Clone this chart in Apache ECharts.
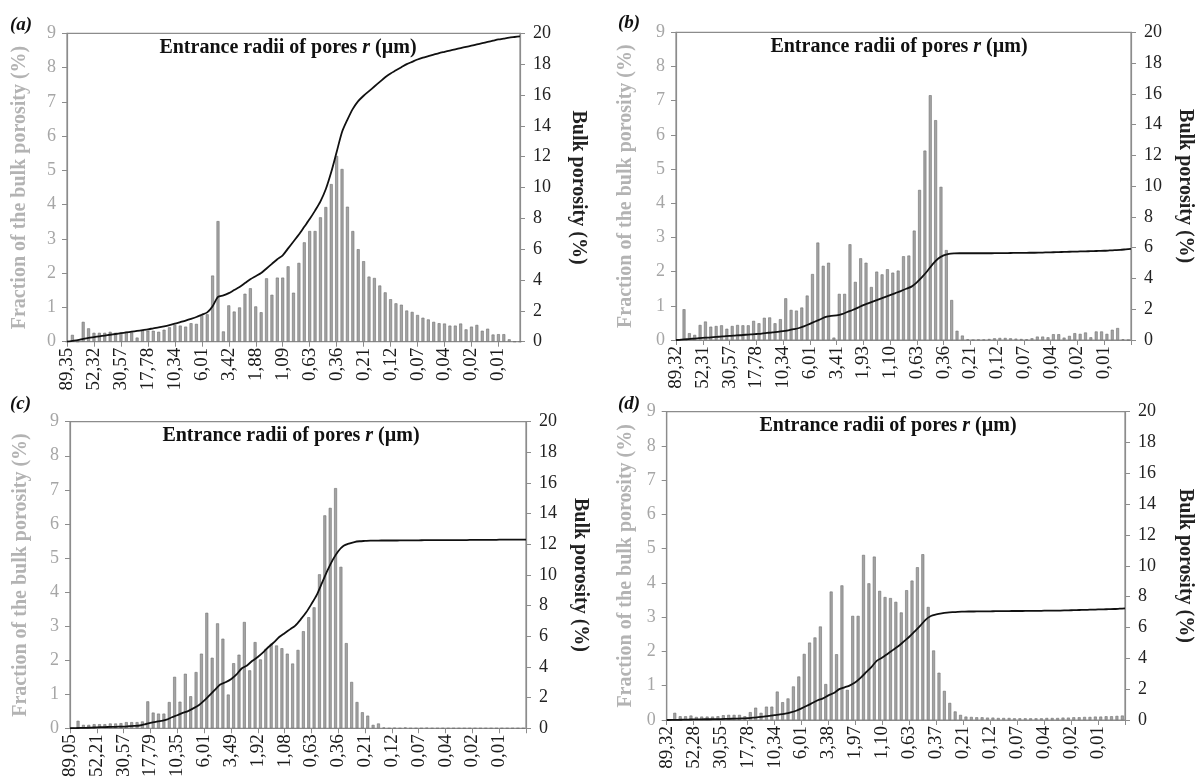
<!DOCTYPE html>
<html><head><meta charset="utf-8">
<script src="https://cdn.jsdelivr.net/npm/echarts/dist/echarts.min.js"></script>
<style>html,body{margin:0;padding:0;background:#fff}#c{width:1196px;height:780px}</style>
</head><body><div id="c"></div>
<script>
// ---------- DATA ----------
const ticksA = ['89,35','52,32','30,57','17,78','10,34','6,01','3,42','1,88','1,09','0,63','0,36','0,21','0,12','0,07','0,04','0,02','0,01'];
const ticksB = ['89,32','52,31','30,57','17,78','10,34','6,01','3,41','1,93','1,10','0,63','0,36','0,21','0,12','0,07','0,04','0,02','0,01'];
const ticksC = ['89,05','52,21','30,57','17,79','10,35','6,01','3,49','1,92','1,08','0,63','0,36','0,21','0,12','0,07','0,04','0,02','0,01'];
const ticksD = ['89,32','52,28','30,55','17,78','10,34','6,01','3,38','1,97','1,10','0,63','0,37','0,21','0,12','0,07','0,04','0,02','0,01'];

// Fraction of the bulk porosity (%) per radius class
const barsA = [
0, 0.2, 0, 0.58, 0.39, 0.26, 0.26, 0.26, 0.29, 0.26,
0.26, 0.29, 0.27, 0.12, 0.32, 0.32, 0.32, 0.29, 0.35, 0.42,
0.49, 0.47, 0.44, 0.54, 0.52, 0.78, 0.8, 1.93, 3.52, 0.3,
1.06, 0.88, 1.0, 1.4, 1.56, 1.03, 0.86, 1.85, 1.37, 1.87,
1.87, 2.2, 1.43, 2.3, 2.9, 3.23, 3.23, 3.63, 3.93, 4.6,
5.42, 5.04, 3.94, 3.23, 2.7, 2.35, 1.9, 1.86, 1.64, 1.44,
1.24, 1.12, 1.08, 0.91, 0.87, 0.78, 0.7, 0.65, 0.58, 0.54,
0.53, 0.47, 0.47, 0.53, 0.36, 0.44, 0.49, 0.32, 0.38, 0.21,
0.22, 0.22, 0.07, 0, 0];
const barsB = [
0, 0.9, 0.2, 0.15, 0.44, 0.54, 0.39, 0.41, 0.43, 0.33,
0.41, 0.44, 0.43, 0.43, 0.56, 0.49, 0.65, 0.66, 0.49, 0.61,
1.22, 0.88, 0.86, 0.95, 1.3, 1.93, 2.85, 2.17, 2.26, 0.07,
1.35, 1.35, 2.8, 1.7, 2.39, 2.26, 1.55, 2.0, 1.92, 2.07,
1.97, 2.03, 2.45, 2.47, 3.2, 4.39, 5.54, 7.16, 6.43, 4.48,
2.63, 1.17, 0.27, 0.13, 0.02, 0, 0.01, 0.01, 0.03, 0.05,
0.06, 0.06, 0.05, 0.04, 0.03, 0.02, 0.05, 0.1, 0.1, 0.08,
0.17, 0.17, 0.07, 0.12, 0.2, 0.18, 0.22, 0.08, 0.25, 0.25,
0.18, 0.3, 0.35, 0.02, 0];
const barsC = [
0, 0.22, 0.1, 0.1, 0.12, 0.12, 0.12, 0.14, 0.14, 0.15,
0.18, 0.18, 0.18, 0.2, 0.79, 0.46, 0.43, 0.43, 0.77, 1.51,
0.78, 1.6, 0.94, 1.65, 2.19, 3.39, 2.07, 3.08, 2.63, 0.99,
1.91, 2.16, 3.12, 1.7, 2.53, 2.02, 2.33, 2.48, 2.43, 2.35,
2.19, 1.9, 2.3, 2.85, 3.26, 3.55, 4.52, 6.25, 6.47, 7.05,
4.74, 2.5, 1.36, 0.77, 0.47, 0.37, 0.1, 0.14, 0.02, 0,
0.01, 0, 0.02, 0, 0, 0, 0.01, 0, 0, 0,
0, 0, 0, 0, 0, 0, 0, 0, 0, 0,
0, 0, 0, 0, 0];
const barsD = [
0, 0.21, 0.11, 0.11, 0.13, 0.09, 0.1, 0.1, 0.1, 0.11,
0.14, 0.15, 0.15, 0.15, 0.11, 0.23, 0.36, 0.21, 0.39, 0.39,
0.83, 0.52, 0.63, 0.98, 1.27, 1.93, 2.26, 2.41, 2.73, 1.05,
3.75, 1.92, 3.93, 0.88, 3.04, 3.04, 4.82, 3.99, 4.77, 3.77,
3.59, 3.56, 3.45, 3.14, 3.79, 4.07, 4.46, 4.84, 3.3, 2.03,
1.38, 0.85, 0.5, 0.25, 0.15, 0.1, 0.09, 0.08, 0.08, 0.07,
0.07, 0.06, 0.06, 0.06, 0.05, 0.05, 0.05, 0.05, 0.05, 0.05,
0.06, 0.06, 0.06, 0.07, 0.07, 0.08, 0.08, 0.09, 0.09, 0.1,
0.1, 0.11, 0.11, 0.12, 0.13];

// Cumulative bulk porosity (%)
const lineA = [
0, 0.05, 0.1, 0.18, 0.25, 0.3, 0.35, 0.4, 0.45, 0.5,
0.55, 0.6, 0.65, 0.7, 0.75, 0.8, 0.87, 0.93, 1.0, 1.08,
1.17, 1.27, 1.37, 1.48, 1.6, 1.75, 1.9, 2.3, 2.9, 3.0,
3.15, 3.35, 3.55, 3.8, 4.05, 4.25, 4.45, 4.75, 5.05, 5.35,
5.6, 6.05, 6.5, 6.95, 7.45, 7.95, 8.5, 9.1, 9.9, 11.0,
12.3, 13.6, 14.4, 15.1, 15.6, 15.95, 16.25, 16.55, 16.85, 17.15,
17.4, 17.6, 17.8, 18.0, 18.15, 18.3, 18.42, 18.52, 18.62, 18.72,
18.8, 18.88, 18.96, 19.04, 19.12, 19.2, 19.28, 19.36, 19.44, 19.52,
19.6, 19.66, 19.72, 19.76, 19.8];
const lineB = [
0, 0.03, 0.05, 0.08, 0.11, 0.14, 0.16, 0.19, 0.21, 0.24,
0.27, 0.29, 0.31, 0.34, 0.36, 0.39, 0.42, 0.46, 0.5, 0.53,
0.57, 0.63, 0.7, 0.78, 0.9, 1.05, 1.2, 1.35, 1.5, 1.57,
1.6, 1.68, 1.82, 1.95, 2.1, 2.27, 2.4, 2.53, 2.66, 2.79,
2.92, 3.05, 3.18, 3.33, 3.47, 3.75, 4.1, 4.5, 4.95, 5.3,
5.5, 5.6, 5.63, 5.64, 5.64, 5.64, 5.64, 5.64, 5.64, 5.64,
5.65, 5.65, 5.65, 5.66, 5.66, 5.66, 5.67, 5.67, 5.68, 5.69,
5.7, 5.71, 5.72, 5.73, 5.74, 5.75, 5.76, 5.77, 5.78, 5.79,
5.8, 5.82, 5.84, 5.86, 5.89, 5.92];
const lineC = [
0, 0.01, 0.02, 0.03, 0.04, 0.06, 0.07, 0.08, 0.09, 0.1,
0.11, 0.13, 0.15, 0.18, 0.26, 0.35, 0.42, 0.48, 0.56, 0.72,
0.85, 1.0, 1.12, 1.3, 1.5, 1.8, 2.15, 2.5, 2.85, 3.0,
3.2, 3.5, 3.9, 4.1, 4.4, 4.65, 4.95, 5.3, 5.6, 5.95,
6.2, 6.45, 6.7, 7.1, 7.55, 8.1, 8.7, 9.5, 10.3, 11.0,
11.55, 11.9, 12.05, 12.15, 12.2, 12.22, 12.24, 12.24, 12.25, 12.25,
12.25, 12.25, 12.26, 12.26, 12.26, 12.26, 12.27, 12.27, 12.27, 12.27,
12.28, 12.28, 12.28, 12.28, 12.28, 12.29, 12.29, 12.29, 12.29, 12.29,
12.3, 12.3, 12.3, 12.3, 12.3, 12.3];
const lineD = [
0, 0.01, 0.01, 0.02, 0.03, 0.04, 0.04, 0.05, 0.05, 0.06,
0.06, 0.07, 0.08, 0.09, 0.1, 0.12, 0.15, 0.18, 0.22, 0.27,
0.32, 0.36, 0.42, 0.5, 0.6, 0.75, 0.92, 1.1, 1.28, 1.4,
1.6, 1.75, 2.0, 2.12, 2.25, 2.45, 2.75, 3.1, 3.45, 3.85,
4.05, 4.3, 4.55, 4.8, 5.1, 5.4, 5.75, 6.1, 6.5, 6.75,
6.85, 6.92, 6.97, 7.0, 7.02, 7.03, 7.04, 7.04, 7.05, 7.05,
7.05, 7.06, 7.06, 7.06, 7.07, 7.07, 7.07, 7.08, 7.08, 7.08,
7.09, 7.09, 7.1, 7.1, 7.11, 7.12, 7.13, 7.14, 7.15, 7.16,
7.17, 7.18, 7.19, 7.2, 7.22, 7.24];

const titleText = 'Entrance radii of pores ';
const titleVar = 'r';
const titleUnit = ' (µm)';
const leftName = 'Fraction of the bulk porosity (%)';
const rightName = 'Bulk porosity (%)';

// ---------- LAYOUT ----------
const FONT = "'Liberation Serif', 'Times New Roman', serif";
const GRAY = '#8c8c8c';
const panels = [
  {letter:'(a)', grid:{left:67, top:33.3, width:453, height:308.4}, ticks:ticksA, bars:barsA, line:lineA, onTick:true,  title:[288,49],  letterPos:[10,16],  gapL:37, gapR:48},
  {letter:'(b)', grid:{left:676, top:32.3, width:458, height:307.7}, ticks:ticksB, bars:barsB, line:lineB, onTick:false, title:[899,48],  letterPos:[618,14], gapL:40, gapR:44},
  {letter:'(c)', grid:{left:70, top:421.7, width:456, height:308.3}, ticks:ticksC, bars:barsC, line:lineC, onTick:false, title:[291,437], letterPos:[10,395], gapL:39, gapR:44},
  {letter:'(d)', grid:{left:666.7, top:411.7, width:462.6, height:308.3}, ticks:ticksD, bars:barsD, line:lineD, onTick:false, title:[888,427], letterPos:[618,395], gapL:31, gapR:50}
];

const option = {animation:false, backgroundColor:'#ffffff', grid:[], xAxis:[], yAxis:[], series:[], title:[]};

panels.forEach((p, i) => {
  option.grid.push(Object.assign({show:true, borderColor:GRAY, borderWidth:1.2, backgroundColor:'transparent'}, p.grid));
  const labelAxis = (n) => ({
    type:'category', gridIndex:i, position:'bottom', boundaryGap:false,
    data: Array.from({length:n}, (_, k) => String(k)),
    axisLine:{show:true, lineStyle:{color:GRAY, width:1.2}},
    axisTick:{show:true, interval:4, length:5, inside:false, lineStyle:{color:GRAY, width:1}},
    axisLabel:{show:true, interval:4, rotate:90, margin:6, fontFamily:FONT, fontSize:19, color:'#1a1a1a',
      formatter:(v, idx) => (idx % 5 === 0 && p.ticks[idx/5] !== undefined) ? p.ticks[idx/5] : ''},
    splitLine:{show:false}
  });
  const xBar = option.xAxis.length;
  let xLine;
  if (p.onTick) {
    option.xAxis.push(labelAxis(p.bars.length));
    xLine = xBar;
  } else {
    option.xAxis.push({type:'category', gridIndex:i, position:'bottom', boundaryGap:true,
      data: Array.from({length:p.bars.length}, (_, k) => String(k)), show:false});
    xLine = option.xAxis.length;
    option.xAxis.push(labelAxis(p.line.length));
  }
  const yL = option.yAxis.length;
  option.yAxis.push({type:'value', gridIndex:i, position:'left', min:0, max:9, interval:1,
    name:leftName, nameLocation:'middle', nameRotate:90, nameGap:p.gapL,
    nameTextStyle:{fontFamily:FONT, fontSize:20, fontWeight:'bold', color:'#b3b3b3'},
    axisLine:{show:true, lineStyle:{color:GRAY, width:1.2}},
    axisTick:{show:true, length:5, lineStyle:{color:GRAY}},
    axisLabel:{fontFamily:FONT, fontSize:18, color:'#a6a6a6', margin:11},
    splitLine:{show:false}});
  const yR = option.yAxis.length;
  option.yAxis.push({type:'value', gridIndex:i, position:'right', min:0, max:20, interval:2,
    name:rightName, nameLocation:'middle', nameRotate:-90, nameGap:p.gapR,
    nameTextStyle:{fontFamily:FONT, fontSize:20, fontWeight:'bold', color:'#222'},
    axisLine:{show:true, lineStyle:{color:GRAY, width:1.2}},
    axisTick:{show:true, length:5, lineStyle:{color:GRAY}},
    axisLabel:{fontFamily:FONT, fontSize:18, color:'#222', margin:13},
    splitLine:{show:false}});
  option.series.push({type:'bar', xAxisIndex:xBar, yAxisIndex:yL, data:p.bars, barWidth:'55%', silent:true,
    itemStyle:{color:'#a4a4a4', borderColor:'#707070', borderWidth:0.6}});
  option.series.push({type:'line', xAxisIndex:xLine, yAxisIndex:yR, data:p.line, symbol:'none', smooth:0.25, silent:true,
    lineStyle:{color:'#111', width:1.8}, z:5});
  option.title.push({text:'{n|' + titleText + '}{i|' + titleVar + '}{n|' + titleUnit + '}',
    left:p.title[0], top:p.title[1] - 11, textAlign:'center', padding:0,
    textStyle:{rich:{
      n:{fontFamily:FONT, fontSize:20, fontWeight:'bold', color:'#111'},
      i:{fontFamily:FONT, fontSize:20, fontWeight:'bold', fontStyle:'italic', color:'#111'}}}});
  option.title.push({text:p.letter, left:p.letterPos[0], top:p.letterPos[1], padding:0,
    textStyle:{fontFamily:FONT, fontSize:19, fontWeight:'bold', fontStyle:'italic', color:'#111'}});
});

const chart = echarts.init(document.getElementById('c'), null, {renderer:'canvas'});
chart.setOption(option);
</script>
</body></html>
